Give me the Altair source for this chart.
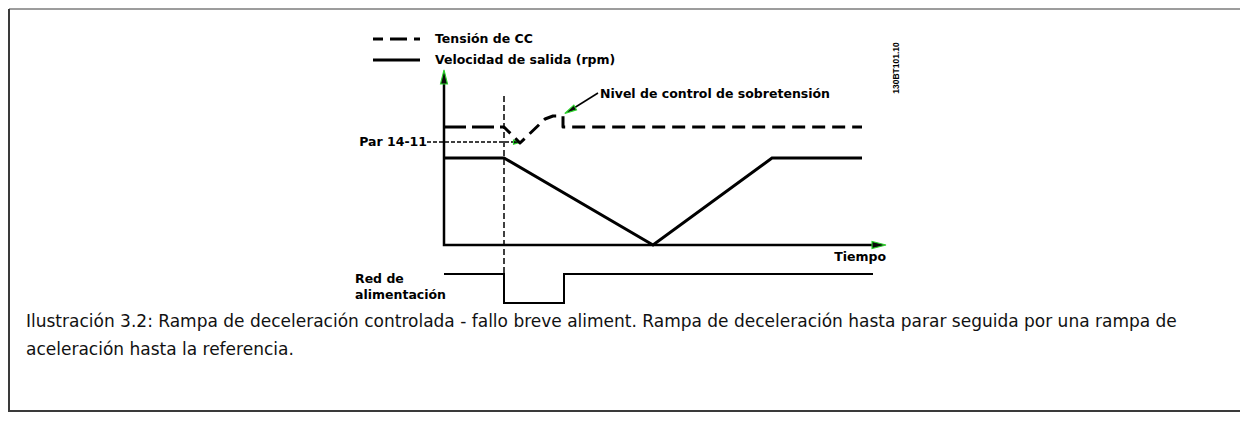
import altair as alt
import pandas as pd

# ---- data (diagram units: t = time, v = level) ----
speed_t = [0, 6, 20.9, 32.8, 41.8]
speed_v = [8.7, 8.7, 0, 8.7, 8.7]

dc_t = [0, 6, 7.6, 10.1, 10.9, 11.9, 11.9, 41.8]
dc_v = [11.8, 11.8, 10.2, 12.6, 12.9, 12.9, 11.8, 11.8]

mains_t = [0, 6, 6, 12, 12, 42.9]
mains_v = [-2.9, -2.9, -5.8, -5.8, -2.9, -2.9]

legend_labels = ["Tensión de CC", "Velocidad de salida (rpm)"]
caption_lines = [
    "Ilustración 3.2: Rampa de deceleración controlada - fallo breve aliment. Rampa de deceleración hasta parar seguida por una rampa de",
    "aceleración hasta la referencia.",
]

XS = alt.Scale(domain=[-43.6, 79.6], nice=False, zero=False)
YS = alt.Scale(domain=[-16.7, 23.7], nice=False, zero=False)


def X(f="t"):
    return alt.X(f"{f}:Q", scale=XS, axis=None)


def Y(f="v"):
    return alt.Y(f"{f}:Q", scale=YS, axis=None)


def path(ts, vs, color="black", **kw):
    df = pd.DataFrame({"t": ts, "v": vs, "i": list(range(len(ts)))})
    return alt.Chart(df).mark_line(color=color, strokeCap="butt", **kw).encode(
        x=X(), y=Y(), order="i:O"
    )


def label(rows, **kw):
    df = pd.DataFrame(rows, columns=["t", "v", "txt"])
    return alt.Chart(df).mark_text(**kw).encode(x=X(), y=Y(), text="txt:N")


def head(t, v, shape, size, angle=0):
    df = pd.DataFrame({"t": [t], "v": [v]})
    return alt.Chart(df).mark_point(
        shape=shape, size=size, angle=angle, filled=True, fill="#0a0a0a",
        stroke="#2bd42b", strokeWidth=1.1, opacity=1
    ).encode(x=X(), y=Y())


bold = dict(font="DejaVu Sans", fontWeight="bold", fontSize=12.5, color="black")

layers = []

# frame: thin top edge, heavier left and bottom edges
layers.append(path([-43.5, 79.6], [23.6, 23.6], color="#3a3a3a", strokeWidth=1))
layers.append(path([-43.5, -43.5, 79.6], [23.6, -16.6, -16.6], color="#3a3a3a",
                   strokeWidth=2, strokeJoin="miter"))

# axes
layers.append(path([0, 0, 43.5], [16.8, 0, 0], strokeWidth=2.5))
layers.append(head(0, 16.8, "M0,-1L0.5,1L-0.5,1Z", 196))
layers.append(head(43.5, 0, "M1,0L-1,0.5L-1,-0.5Z", 196))

# vertical thin dashed marker and Par 14-11 line
layers.append(path([6, 6], [14.9, -5.8], strokeWidth=1.5, strokeDash=[6, 3]))
layers.append(path([-1.7, 7.2], [10.3, 10.3], strokeWidth=1.5, strokeDash=[4, 2]))
layers.append(head(7.3, 10.28, "M1,0L-1,0.6L-1,-0.6Z", 49))

# series
layers.append(path(speed_t, speed_v, strokeWidth=3, strokeJoin="miter"))
layers.append(path(dc_t, dc_v, strokeWidth=3, strokeDash=[22, 6, 22, 6, 13, 7, 13, 7, 13, 7, 13, 7, 13, 7, 13, 7, 13, 7, 13, 7, 13, 7, 13, 7, 13, 7, 13, 7, 13, 7, 13, 7, 13, 7, 13, 7, 13, 7, 13, 7, 13, 7, 13, 7, 13, 7, 13, 7],
                   strokeJoin="round"))
layers.append(path(mains_t, mains_v, strokeWidth=2, strokeJoin="miter"))

# legend samples
layers.append(path([-7.1, -2.4], [20.6, 20.6], strokeWidth=3, strokeDash=[10, 7, 17, 7, 13, 7]))
layers.append(path([-7.1, -2.4], [18.5, 18.5], strokeWidth=3))
layers.append(label([[-0.9, 20.6, legend_labels[0]], [-0.9, 18.5, legend_labels[1]]],
                    align="left", baseline="middle", **bold))

# annotation arrow
layers.append(path([15.4, 13.0], [15.2, 13.7], strokeWidth=1.5))
layers.append(head(12.6, 13.45, "M0,-1L0.45,1L-0.45,1Z", 144, angle=240))
layers.append(label([[15.6, 15.1, "Nivel de control de sobretensión"]],
                    align="left", baseline="middle", **bold))

# other labels
layers.append(label([[-1.7, 10.3, "Par 14-11"]], align="right", baseline="middle", **bold))
layers.append(label([[44.2, -1.2, "Tiempo"]], align="right", baseline="middle", **bold))
layers.append(label([[-8.9, -3.4, "Red de"], [-8.9, -5.0, "alimentación"]],
                    align="left", baseline="middle", **bold))
layers.append(label([[45.2, 17.7, "130BT101.10"]], align="center", baseline="middle",
                    angle=270, font="Liberation Sans", fontWeight="bold", fontSize=8.5,
                    color="black"))

# caption
layers.append(label([[-41.8, -7.7, caption_lines[0]], [-41.8, -10.5, caption_lines[1]]],
                    align="left", baseline="middle", font="DejaVu Sans", fontSize=17,
                    color="#111"))

chart = alt.layer(*layers).properties(
    width=1232, height=404, padding=0, autosize=alt.AutoSizeParams(type="none"),
    background="white"
).configure_view(stroke="transparent", strokeWidth=0)

chart.save("out.html", embed_options={"renderer": "svg", "actions": False})
